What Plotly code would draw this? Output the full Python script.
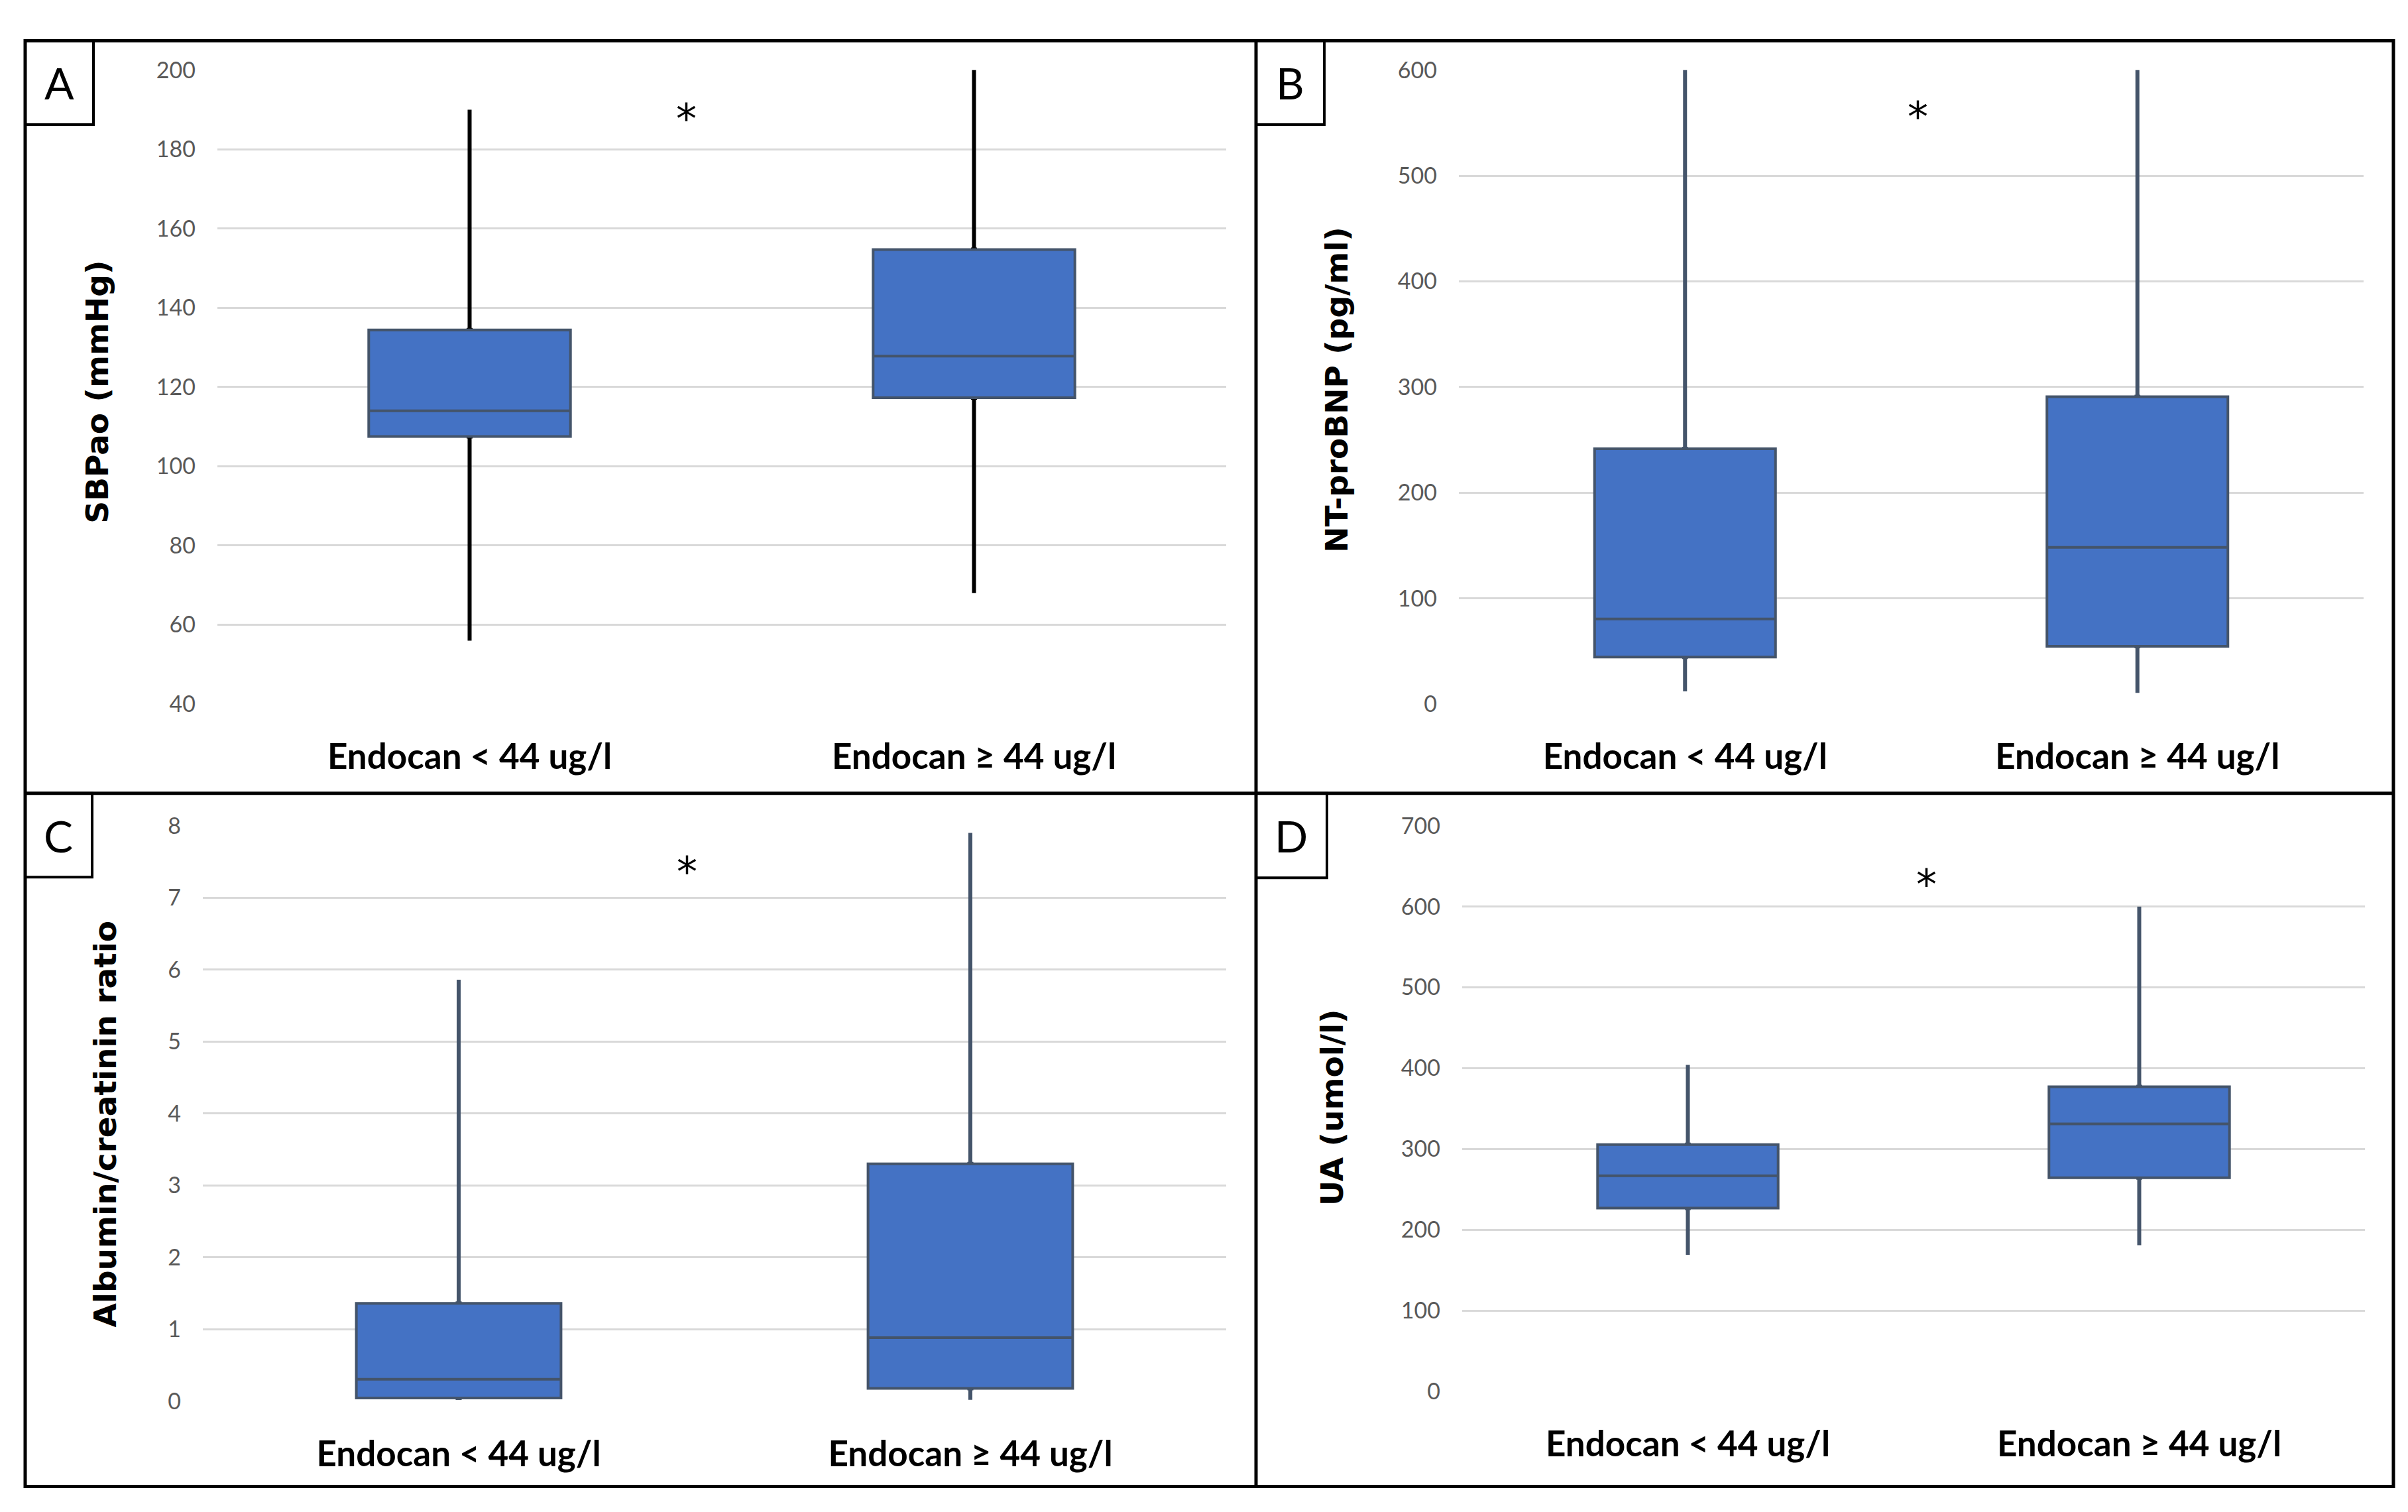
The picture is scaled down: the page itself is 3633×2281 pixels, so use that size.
import plotly.graph_objects as go

W, H = 3633, 2281

# ---------------- data ----------------
categories = ["Endocan < 44 ug/l", "Endocan ≥ 44 ug/l"]

# Panel A: SBPao (mmHg)
a_low = [56, 68]
a_q1 = [107.5, 117.3]
a_med = [114, 127.8]
a_q3 = [134.4, 154.7]
a_high = [190, 200]
a_ticks = [40, 60, 80, 100, 120, 140, 160, 180, 200]

# Panel B: NT-proBNP (pg/ml)
b_low = [12, 10.5]
b_q1 = [44.5, 54.7]
b_med = [80.5, 148.3]
b_q3 = [241.5, 290.8]
b_high = [600, 600]
b_ticks = [0, 100, 200, 300, 400, 500, 600]

# Panel C: Albumin/creatinin ratio
c_low = [0.02, 0.02]
c_q1 = [0.045, 0.178]
c_med = [0.305, 0.884]
c_q3 = [1.36, 3.30]
c_high = [5.86, 7.9]
c_ticks = [0, 1, 2, 3, 4, 5, 6, 7, 8]

# Panel D: UA (umol/l)
d_low = [169, 181]
d_q1 = [227, 264.5]
d_med = [267, 331]
d_q3 = [305.5, 377]
d_high = [404, 600]
d_ticks = [0, 100, 200, 300, 400, 500, 600, 700]

panel_letters = ["A", "B", "C", "D"]
y_titles = ["SBPao (mmHg)", "NT-proBNP (pg/ml)", "Albumin/creatinin ratio", "UA (umol/l)"]
star_text = "*"
# asterisk positions (category coordinate, value)
star_x = [0.43, 0.514, 0.446, 0.529]
star_y = [189.3, 561.8, 7.45, 635.6]

# ---------------- style ----------------
FILL = "#4472C4"
EDGE = "#44546A"
GRID = "#D9D9D9"
TICKC = "#595959"


def fx(p):
    return p / W


def fy(p):
    return 1 - p / H


panels = [
    dict(low=a_low, q1=a_q1, med=a_med, q3=a_q3, high=a_high, ticks=a_ticks,
         rng=[40, 200], xd=[320, 1842], yd=[1051, 77], wcol="#000000"),
    dict(low=b_low, q1=b_q1, med=b_med, q3=b_q3, high=b_high, ticks=b_ticks,
         rng=[0, 600], xd=[2193, 3558], yd=[1051, 77], wcol=EDGE),
    dict(low=c_low, q1=c_q1, med=c_med, q3=c_q3, high=c_high, ticks=c_ticks,
         rng=[0, 8], xd=[298, 1842], yd=[2122, 1238], wcol=EDGE),
    dict(low=d_low, q1=d_q1, med=d_med, q3=d_q3, high=d_high, ticks=d_ticks,
         rng=[0, 700], xd=[2198, 3560], yd=[2107, 1238], wcol=EDGE),
]

fig = go.Figure()
layout_axes = {}

for i, p in enumerate(panels):
    n = "" if i == 0 else str(i + 1)
    xa, ya = "x" + n, "y" + n
    # whiskers (full range), drawn underneath
    fig.add_trace(go.Box(
        x=categories, q1=p["q1"], median=p["med"], q3=p["q3"],
        lowerfence=p["low"], upperfence=p["high"],
        width=0.004, whiskerwidth=0,
        line=dict(color=p["wcol"], width=6), fillcolor=p["wcol"],
        boxpoints=False, showlegend=False, xaxis=xa, yaxis=ya, hoverinfo="skip",
    ))
    # boxes on top
    fig.add_trace(go.Box(
        x=categories, q1=p["q1"], median=p["med"], q3=p["q3"],
        lowerfence=p["q1"], upperfence=p["q3"],
        width=0.40, whiskerwidth=0,
        line=dict(color=EDGE, width=4), fillcolor=FILL,
        boxpoints=False, showlegend=False, xaxis=xa, yaxis=ya,
    ))
    layout_axes["xaxis" + n] = dict(
        domain=[fx(p["xd"][0]), fx(p["xd"][1])], anchor=ya,
        type="category", categoryorder="array", categoryarray=categories,
        range=[-0.5, 1.5], showgrid=False, zeroline=False, showline=False,
        ticks="", ticklabelstandoff=44,
        tickfont=dict(family="Lato, Open Sans, sans-serif", size=53, color="#000000", weight="bold"),
    )
    layout_axes["yaxis" + n] = dict(
        domain=[fy(p["yd"][0]), fy(p["yd"][1])], anchor=xa,
        range=p["rng"], tickvals=p["ticks"], ticktext=[str(t) for t in p["ticks"]],
        showgrid=True, gridcolor=GRID, gridwidth=2.5, zeroline=False, showline=False,
        ticks="", ticklabelstandoff=32,
        tickfont=dict(family="Lato, Open Sans, sans-serif", size=34, color=TICKC),
    )

fig.update_layout(**layout_axes)

# ---------------- annotations ----------------
ann = []
letter_pos = [(81, 96), (1938, 96), (80, 1253), (1940, 1253)]
for (x, y), t in zip(letter_pos, panel_letters):
    ann.append(dict(x=fx(x), y=fy(y), xref="paper", yref="paper", text=t, showarrow=False,
                    xanchor="center", yanchor="middle",
                    font=dict(family="Lato, Open Sans, sans-serif", size=66, color="#000000")))
title_pos = [(139, 572), (2009, 568), (151, 1696), (2002, 1671)]
for (x, y), t in zip(title_pos, y_titles):
    ann.append(dict(x=fx(x), y=fy(y), xref="paper", yref="paper", text=t, showarrow=False,
                    textangle=-90, xanchor="center", yanchor="middle",
                    font=dict(family="DejaVu Sans, sans-serif", size=47, color="#000000", weight="bold")))
for i in range(4):
    n = "" if i == 0 else str(i + 1)
    ann.append(dict(x=star_x[i], y=star_y[i], xref="x" + n, yref="y" + n, text=star_text,
                    showarrow=False, xanchor="center", yanchor="middle", yshift=-10,
                    font=dict(family="DejaVu Sans, sans-serif", size=62, color="#000000")))
fig.update_layout(annotations=ann)

# ---------------- frames ----------------
shapes = []
lw = 5
shapes.append(dict(type="rect", xref="paper", yref="paper", x0=fx(30), x1=fx(3603), y0=fy(32), y1=fy(2253),
                   line=dict(color="#000000", width=lw)))
shapes.append(dict(type="line", xref="paper", yref="paper", x0=fx(1887), x1=fx(1887), y0=fy(32), y1=fy(2253),
                   line=dict(color="#000000", width=lw)))
shapes.append(dict(type="line", xref="paper", yref="paper", x0=fx(30), x1=fx(3603), y0=fy(1188), y1=fy(1188),
                   line=dict(color="#000000", width=lw)))
for (x0, y0, x1, y1) in [(30, 32, 133, 161), (1887, 32, 1990, 161), (30, 1188, 131, 1317), (1887, 1188, 1994, 1318)]:
    shapes.append(dict(type="rect", xref="paper", yref="paper", x0=fx(x0), x1=fx(x1), y0=fy(y0), y1=fy(y1),
                       line=dict(color="#000000", width=4)))
fig.update_layout(shapes=shapes)

fig.update_layout(
    width=W, height=H, margin=dict(l=0, r=0, t=0, b=0),
    paper_bgcolor="#FFFFFF", plot_bgcolor="#FFFFFF",
    boxmode="overlay", showlegend=False,
)

fig.write_html("out.html")
